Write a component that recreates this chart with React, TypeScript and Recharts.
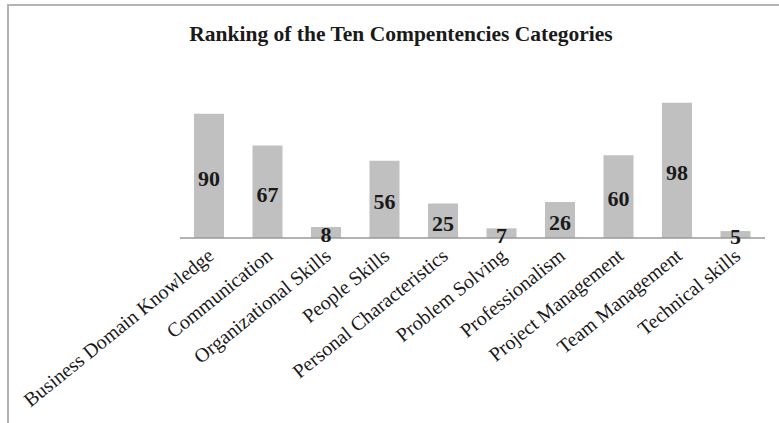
import { BarChart, Bar, XAxis, YAxis, LabelList } from "recharts";

// Categories and counts
const categories = [
  "Business Domain Knowledge",
  "Communication",
  "Organizational Skills",
  "People Skills",
  "Personal Characteristics",
  "Problem Solving",
  "Professionalism",
  "Project Management",
  "Team Management",
  "Technical skills",
];
const counts = [90, 67, 8, 56, 25, 7, 26, 60, 98, 5];

const data = categories.map((name, i) => ({ name, count: counts[i] }));

const FONT = "'Liberation Serif', 'Times New Roman', serif";

function AngledTick({ x, y, payload }: any) {
  return (
    <g transform={`translate(${x + 6},${y + 12})`}>
      <text
        x={0}
        y={0}
        textAnchor="end"
        transform="rotate(-39)"
        fontFamily={FONT}
        fontSize={20}
        fill="#1a1a1a"
      >
        {payload.value}
      </text>
    </g>
  );
}

export default function App() {
  return (
    <div style={{ position: "absolute", left: 0, top: 0, width: 779, height: 423, background: "#fff", overflow: "hidden" }}>
      <div
        style={{
          position: "absolute",
          left: 7,
          top: 4,
          right: 0,
          bottom: 0,
          borderTop: "2px solid #b4b4b4",
          borderLeft: "2px solid #b4b4b4",
        }}
      />
      <div
        style={{
          position: "absolute",
          left: 0,
          width: 802,
          top: 22,
          textAlign: "center",
          fontFamily: FONT,
          fontWeight: "bold",
          fontSize: 21.5,
          color: "#1a1a1a",
        }}
      >
        Ranking of the Ten Compentencies Categories
      </div>
      <BarChart
        width={779}
        height={423}
        data={data}
        margin={{ top: 100, right: 14, left: 180, bottom: 0 }}
        barCategoryGap="25%"
      >
        <YAxis hide domain={[0, 100]} />
        <XAxis
          dataKey="name"
          height={185}
          interval={0}
          tickLine={false}
          axisLine={{ stroke: "#9a9a9a", strokeWidth: 1.5 }}
          tick={<AngledTick />}
        />
        <Bar dataKey="count" fill="#c0c0c0" barSize={30} isAnimationActive={false}>
          <LabelList
            dataKey="count"
            position="center"
            dy={2}
            fontFamily={FONT}
            fontWeight="bold"
            fontSize={22}
            fill="#1a1a1a"
          />
        </Bar>
      </BarChart>
    </div>
  );
}
